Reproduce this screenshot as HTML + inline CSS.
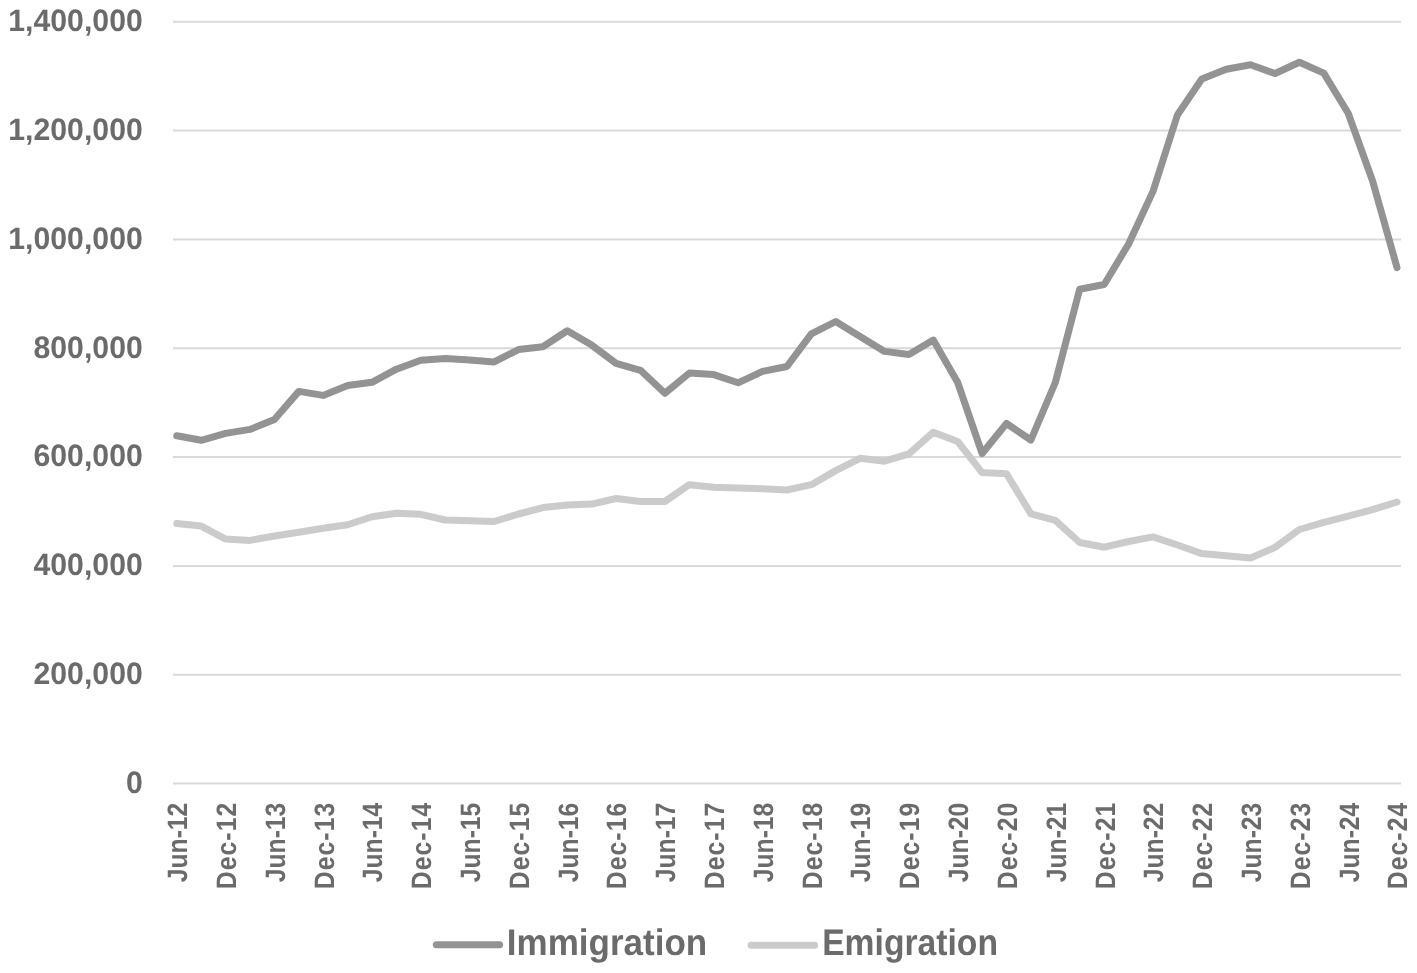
<!DOCTYPE html>
<html><head><meta charset="utf-8"><style>
html,body{margin:0;padding:0;background:#fff;}
svg{display:block;will-change:transform;}
text{font-family:"Liberation Sans",sans-serif;font-weight:bold;fill:#6b6b6b;text-rendering:geometricPrecision;}
</style></head><body>
<svg width="1417" height="973" viewBox="0 0 1417 973">
<rect width="1417" height="973" fill="#fff"/>
<g stroke="#d9d9d9" stroke-width="2"><line x1="173" x2="1401" y1="21.80" y2="21.80"/><line x1="173" x2="1401" y1="130.62" y2="130.62"/><line x1="173" x2="1401" y1="239.44" y2="239.44"/><line x1="173" x2="1401" y1="348.26" y2="348.26"/><line x1="173" x2="1401" y1="457.08" y2="457.08"/><line x1="173" x2="1401" y1="565.90" y2="565.90"/><line x1="173" x2="1401" y1="674.72" y2="674.72"/><line x1="173" x2="1401" y1="783.54" y2="783.54"/></g>
<g font-size="31.0" text-anchor="end"><text transform="translate(142.8,31.00) scale(0.9755,1)">1,400,000</text><text transform="translate(142.8,140.00) scale(0.9755,1)">1,200,000</text><text transform="translate(142.8,249.00) scale(0.9755,1)">1,000,000</text><text transform="translate(142.8,358.00) scale(0.9755,1)">800,000</text><text transform="translate(142.8,466.00) scale(0.9755,1)">600,000</text><text transform="translate(142.8,575.00) scale(0.9755,1)">400,000</text><text transform="translate(142.8,684.00) scale(0.9755,1)">200,000</text><text transform="translate(142.8,793.00) scale(0.9755,1)">0</text></g>
<g font-size="28.0" text-anchor="end"><text transform="translate(187.15,802.7) rotate(-90) scale(0.8815,1)">Jun-12</text><text transform="translate(235.96,802.7) rotate(-90) scale(0.8815,1)" textLength="98.28" lengthAdjust="spacing">Dec-12</text><text transform="translate(284.77,802.7) rotate(-90) scale(0.8815,1)">Jun-13</text><text transform="translate(333.57,802.7) rotate(-90) scale(0.8815,1)" textLength="98.28" lengthAdjust="spacing">Dec-13</text><text transform="translate(382.38,802.7) rotate(-90) scale(0.8815,1)">Jun-14</text><text transform="translate(431.19,802.7) rotate(-90) scale(0.8815,1)" textLength="98.28" lengthAdjust="spacing">Dec-14</text><text transform="translate(480.00,802.7) rotate(-90) scale(0.8815,1)">Jun-15</text><text transform="translate(528.81,802.7) rotate(-90) scale(0.8815,1)" textLength="98.28" lengthAdjust="spacing">Dec-15</text><text transform="translate(577.61,802.7) rotate(-90) scale(0.8815,1)">Jun-16</text><text transform="translate(626.42,802.7) rotate(-90) scale(0.8815,1)" textLength="98.28" lengthAdjust="spacing">Dec-16</text><text transform="translate(675.23,802.7) rotate(-90) scale(0.8815,1)">Jun-17</text><text transform="translate(724.04,802.7) rotate(-90) scale(0.8815,1)" textLength="98.28" lengthAdjust="spacing">Dec-17</text><text transform="translate(772.85,802.7) rotate(-90) scale(0.8815,1)">Jun-18</text><text transform="translate(821.65,802.7) rotate(-90) scale(0.8815,1)" textLength="98.28" lengthAdjust="spacing">Dec-18</text><text transform="translate(870.46,802.7) rotate(-90) scale(0.8815,1)">Jun-19</text><text transform="translate(919.27,802.7) rotate(-90) scale(0.8815,1)" textLength="98.28" lengthAdjust="spacing">Dec-19</text><text transform="translate(968.08,802.7) rotate(-90) scale(0.8815,1)">Jun-20</text><text transform="translate(1016.89,802.7) rotate(-90) scale(0.8815,1)" textLength="98.28" lengthAdjust="spacing">Dec-20</text><text transform="translate(1065.69,802.7) rotate(-90) scale(0.8815,1)">Jun-21</text><text transform="translate(1114.50,802.7) rotate(-90) scale(0.8815,1)" textLength="98.28" lengthAdjust="spacing">Dec-21</text><text transform="translate(1163.31,802.7) rotate(-90) scale(0.8815,1)">Jun-22</text><text transform="translate(1212.12,802.7) rotate(-90) scale(0.8815,1)" textLength="98.28" lengthAdjust="spacing">Dec-22</text><text transform="translate(1260.93,802.7) rotate(-90) scale(0.8815,1)">Jun-23</text><text transform="translate(1309.73,802.7) rotate(-90) scale(0.8815,1)" textLength="98.28" lengthAdjust="spacing">Dec-23</text><text transform="translate(1358.54,802.7) rotate(-90) scale(0.8815,1)">Jun-24</text><text transform="translate(1407.35,802.7) rotate(-90) scale(0.8815,1)" textLength="98.28" lengthAdjust="spacing">Dec-24</text></g>
<polyline points="176.8,435.8 201.2,440.3 225.6,433.4 250.0,429.4 274.4,419.5 298.8,391.4 323.2,395.4 347.6,385.5 372.0,382.3 396.4,369.2 420.8,360.2 445.2,358.5 469.6,360.0 494.1,361.9 518.5,349.6 542.9,346.7 567.3,330.8 591.7,345.1 616.1,363.4 640.5,370.3 664.9,393.3 689.3,373.1 713.7,374.6 738.1,382.8 762.5,371.4 786.9,366.5 811.3,333.9 835.7,321.5 860.1,336.4 884.5,351.4 908.9,354.5 933.3,340.1 957.7,382.5 982.1,453.5 1006.5,423.5 1030.9,440.0 1055.3,382.5 1079.7,289.2 1104.2,284.5 1128.6,244.0 1153.0,191.4 1177.4,115.0 1201.8,79.0 1226.2,69.3 1250.6,64.8 1275.0,73.5 1299.4,62.2 1323.8,73.1 1348.2,113.3 1372.6,181.0 1397.0,267.6" fill="none" stroke="#939393" stroke-width="7.0" stroke-linejoin="round" stroke-linecap="round"/>
<polyline points="176.8,523.6 201.2,526.1 225.6,539.1 250.0,540.4 274.4,536.0 298.8,532.2 323.2,528.3 347.6,524.8 372.0,516.7 396.4,513.2 420.8,514.3 445.2,520.0 469.6,520.7 494.1,521.5 518.5,514.0 542.9,507.6 567.3,505.1 591.7,504.1 616.1,498.5 640.5,501.4 664.9,501.5 689.3,484.7 713.7,487.2 738.1,488.0 762.5,488.7 786.9,490.0 811.3,484.7 835.7,470.6 860.1,458.3 884.5,461.2 908.9,453.9 933.3,432.2 957.7,441.5 982.1,472.6 1006.5,473.7 1030.9,513.9 1055.3,520.3 1079.7,542.5 1104.2,547.2 1128.6,541.5 1153.0,536.9 1177.4,545.0 1201.8,553.6 1226.2,555.7 1250.6,558.0 1275.0,547.4 1299.4,529.5 1323.8,522.3 1348.2,516.1 1372.6,509.7 1397.0,502.0" fill="none" stroke="#cbcbcb" stroke-width="7.0" stroke-linejoin="round" stroke-linecap="round"/>
<line x1="436.3" x2="499.7" y1="944.8" y2="944.8" stroke="#939393" stroke-width="7" stroke-linecap="round"/>
<line x1="751.1" x2="814.6" y1="945.3" y2="945.3" stroke="#cbcbcb" stroke-width="7" stroke-linecap="round"/>
<g font-size="37.0"><text transform="translate(506.75712855,955.0) scale(0.9465,1)">Immigration</text><text transform="translate(822.147477,955.0) scale(0.91,1)">Emigration</text></g>
</svg>
</body></html>
